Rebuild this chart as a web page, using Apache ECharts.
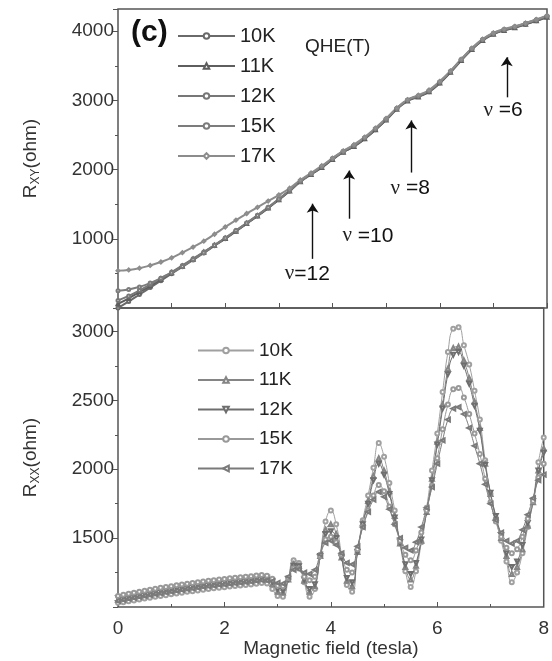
<!DOCTYPE html>
<html><head><meta charset="utf-8">
<script src="https://cdn.jsdelivr.net/npm/echarts@6/dist/echarts.min.js"></script>
<style>html,body{margin:0;padding:0;background:#fff}#c{width:552px;height:661px}</style>
</head><body><div id="c"></div>
<script>
// ---------- data ----------
const temps = ['10K', '11K', '12K', '15K', '17K'];

// Top panel: Hall resistance R_XY (ohm) vs field (tesla), 0.2 T steps
const fieldTop = [0,0.2,0.4,0.6,0.8,1.0,1.2,1.4,1.6,1.8,2.0,2.2,2.4,2.6,2.8,3.0,3.2,3.4,3.6,3.8,
  4.0,4.2,4.4,4.6,4.8,5.0,5.2,5.4,5.6,5.8,6.0,6.2,6.4,6.6,6.8,7.0,7.2,7.4,7.6,7.8,8.0];
const rxy10K = [0,95,195,295,395,495,595,695,795,900,1000,1110,1220,1330,1445,1565,1690,1830,1935,2030,
  2150,2255,2335,2445,2575,2720,2880,3000,3055,3125,3250,3410,3580,3740,3870,3960,4015,4055,4100,4150,4205];
const rxy11K = [60,140,230,320,415,510,605,705,805,905,1005,1110,1220,1330,1445,1565,1690,1825,1930,2030,
  2145,2250,2335,2445,2575,2715,2870,2990,3050,3125,3250,3405,3575,3735,3865,3955,4010,4050,4100,4150,4200];
const rxy12K = [110,175,255,340,430,520,615,712,810,910,1012,1118,1228,1338,1452,1570,1695,1828,1935,2040,
  2155,2260,2345,2455,2585,2725,2880,3000,3060,3135,3260,3415,3585,3745,3875,3965,4020,4060,4110,4160,4215];
const rxy15K = [250,268,305,360,430,510,600,700,800,905,1010,1118,1228,1340,1455,1575,1700,1835,1940,2045,
  2160,2265,2350,2460,2590,2730,2885,3005,3065,3140,3265,3420,3590,3750,3880,3970,4025,4065,4115,4165,4220];
const rxy17K = [540,550,575,615,665,725,800,880,965,1065,1170,1270,1365,1455,1545,1635,1730,1850,1950,2055,
  2165,2270,2360,2470,2600,2740,2890,3010,3075,3150,3275,3425,3595,3755,3885,3975,4030,4070,4115,4170,4225];

// Bottom panel: longitudinal resistance R_XX (ohm) vs field (tesla), 0.1 T steps
const fieldBottom = [0,0.1,0.2,0.3,0.4,0.5,0.6,0.7,0.8,0.9,1.0,1.1,1.2,1.3,1.4,1.5,1.6,1.7,1.8,1.9,
  2.0,2.1,2.2,2.3,2.4,2.5,2.6,2.7,2.8,2.9,3.0,3.1,3.2,3.3,3.4,3.5,3.6,3.7,3.8,3.9,
  4.0,4.1,4.2,4.3,4.4,4.5,4.6,4.7,4.8,4.9,5.0,5.1,5.2,5.3,5.4,5.5,5.6,5.7,5.8,5.9,
  6.0,6.1,6.2,6.3,6.4,6.5,6.6,6.7,6.8,6.9,7.0,7.1,7.2,7.3,7.4,7.5,7.6,7.7,7.8,7.9,8.0];
const rxx10K = [1030,1035,1042,1048,1055,1062,1068,1074,1080,1086,
  1092,1098,1104,1110,1115,1120,1126,1131,1136,1140,
  1144,1148,1152,1156,1160,1164,1168,1175,1170,1130,
  1080,1075,1200,1340,1320,1180,1075,1130,1380,1620,
  1700,1600,1380,1160,1110,1400,1630,1810,2010,2190,
  2090,1900,1700,1460,1260,1145,1260,1470,1720,1990,
  2260,2560,2850,3020,3030,2900,2760,2570,2360,2065,
  1820,1640,1480,1330,1180,1250,1390,1580,1770,2050,
  2230];
const rxx11K = [1050,1058,1065,1072,1079,1086,1093,1100,1106,1112,
  1118,1124,1130,1136,1142,1147,1152,1157,1162,1167,
  1171,1175,1179,1183,1187,1191,1196,1202,1198,1165,
  1110,1105,1200,1310,1300,1190,1110,1150,1370,1560,
  1600,1530,1360,1190,1150,1400,1610,1770,1950,2080,
  1990,1840,1660,1460,1290,1200,1300,1480,1690,1930,
  2200,2470,2730,2880,2890,2790,2660,2490,2300,2040,
  1820,1650,1500,1370,1240,1290,1420,1590,1760,1990,
  2150];
const rxx12K = [1065,1073,1081,1088,1095,1102,1109,1116,1122,1128,
  1134,1140,1146,1152,1158,1163,1168,1173,1178,1183,
  1187,1191,1195,1199,1203,1207,1212,1218,1212,1185,
  1130,1120,1205,1300,1295,1200,1130,1165,1370,1530,
  1550,1500,1360,1210,1180,1400,1600,1750,1920,2040,
  1960,1820,1650,1470,1310,1240,1320,1490,1690,1920,
  2180,2440,2690,2830,2850,2750,2620,2460,2280,2030,
  1830,1660,1520,1390,1290,1330,1450,1610,1770,1990,
  2120];
const rxx15K = [1080,1088,1096,1104,1111,1118,1125,1132,1139,1145,
  1151,1157,1163,1169,1175,1180,1185,1190,1195,1200,
  1204,1208,1212,1216,1220,1224,1228,1232,1226,1205,
  1155,1150,1210,1280,1280,1220,1195,1220,1370,1490,
  1510,1470,1380,1270,1250,1420,1580,1700,1810,1885,
  1840,1730,1600,1480,1380,1340,1410,1540,1700,1880,
  2080,2290,2470,2580,2590,2520,2400,2260,2110,1930,
  1760,1620,1510,1430,1390,1420,1510,1640,1770,1940,
  2040];
const rxx17K = [1045,1052,1060,1067,1074,1081,1088,1095,1101,1107,
  1113,1119,1125,1131,1137,1142,1147,1152,1157,1162,
  1166,1170,1174,1178,1182,1186,1191,1196,1194,1188,
  1175,1170,1220,1270,1275,1250,1240,1270,1380,1465,
  1480,1450,1390,1320,1310,1440,1580,1690,1780,1835,
  1800,1710,1600,1500,1430,1410,1470,1580,1720,1870,
  2040,2210,2360,2440,2450,2400,2300,2170,2040,1890,
  1750,1630,1540,1480,1460,1480,1560,1670,1790,1920,
  1960];

// Filling-factor annotations (top panel)
const nuLabels = ['12', '10', '8', '6'];
const nuSpaced = [false, true, true, true];
const nuArrowField = [3.63, 4.31, 5.47, 7.25];
const nuArrowFrom = [710, 1290, 1957, 3044];
const nuArrowTo = [1507, 1986, 2710, 3623];
const nuLabelField = [3.53, 4.66, 5.45, 7.18];
const nuLabelValue = [493, 1044, 1725, 2855];

// ---------- chart ----------
const FONT = 'Liberation Sans, Arial, sans-serif';
const topSets = [rxy10K, rxy11K, rxy12K, rxy15K, rxy17K];
const botSets = [rxx10K, rxx11K, rxx12K, rxx15K, rxx17K];
const topSymbols = ['emptyCircle', 'emptyTriangle', 'emptyCircle', 'emptyCircle', 'emptyDiamond'];
const botSymbols = ['emptyCircle', 'emptyTriangle', 'emptyTriangle', 'emptyCircle', 'emptyTriangle'];
const botRotate = [0, 0, 180, 0, 90];
const topColors = ['#6a6a6a', '#5e5e5e', '#777777', '#7c7c7c', '#8c8c8c'];
const botColors = ['#a0a0a0', '#858585', '#6e6e6e', '#999999', '#7a7a7a'];

const series = [];
temps.forEach((t, k) => {
  series.push({
    name: 't' + t, type: 'line', xAxisIndex: 0, yAxisIndex: 0,
    data: fieldTop.map((b, i) => [b, topSets[k][i]]),
    smooth: true, symbol: topSymbols[k], symbolSize: 3, showSymbol: true,
    lineStyle: { color: topColors[k], width: 2 },
    itemStyle: { color: topColors[k] },
    z: 2
  });
});
temps.forEach((t, k) => {
  series.push({
    name: 'b' + t, type: 'line', xAxisIndex: 1, yAxisIndex: 1,
    data: fieldBottom.map((b, i) => [b, botSets[k][i]]),
    smooth: true, symbol: botSymbols[k], symbolRotate: botRotate[k], symbolSize: 4, showSymbol: true,
    lineStyle: { color: botColors[k], width: 1 },
    itemStyle: { color: botColors[k] },
    z: 2
  });
});

// annotations attached to the first top series
series[0].markLine = {
  silent: true, animation: false,
  symbol: ['none', 'arrow'], symbolSize: 9,
  lineStyle: { color: '#111', width: 1.4, type: 'solid' },
  label: { show: false },
  emphasis: { disabled: true },
  data: nuArrowField.map((b, i) => [
    { coord: [b, nuArrowFrom[i]], symbol: 'none' },
    { coord: [b, nuArrowTo[i]], symbol: 'arrow', symbolSize: 9 }
  ])
};
series[0].markPoint = {
  silent: true, animation: false,
  symbol: 'circle', symbolSize: 0,
  label: {
    show: true, position: 'inside', color: '#111',
    formatter: p => '{g|\u03bd}{n|' + (nuSpaced[p.dataIndex] ? ' =' : '=') + nuLabels[p.dataIndex] + '}',
    rich: {
      g: { fontFamily: 'Liberation Serif, serif', fontSize: 21, color: '#222' },
      n: { fontFamily: FONT, fontSize: 21, color: '#111' }
    }
  },
  data: nuLabelField.map((b, i) => ({ coord: [b, nuLabelValue[i]] }))
};

const yName = sub => '{r|R}{s|' + sub + '}{r|(ohm)}';
const yNameStyle = {
  color: '#333', fontFamily: FONT,
  rich: {
    r: { fontSize: 19, fontFamily: FONT, color: '#333', lineHeight: 22 },
    s: { fontSize: 12, fontFamily: FONT, color: '#333', verticalAlign: 'bottom', lineHeight: 12 }
  }
};
const plainNum = v => String(v);

const option = {
  animation: false,
  backgroundColor: '#fff',
  textStyle: { fontFamily: FONT },
  title: [
    { text: '(c)', left: 126, top: 13, textStyle: { fontSize: 30, fontWeight: 'bold', color: '#111', fontFamily: FONT } },
    { text: 'QHE(T)', left: 300, top: 32, textStyle: { fontSize: 19, fontWeight: 'normal', color: '#222', fontFamily: FONT } }
  ],
  legend: [
    {
      orient: 'vertical', left: 172, top: 21,
      itemWidth: 57, itemHeight: 7, itemGap: 10,
      data: temps.map(t => 't' + t),
      formatter: n => n.slice(1),
      textStyle: { fontSize: 20, color: '#222', lineHeight: 20, fontFamily: FONT }
    },
    {
      orient: 'vertical', left: 192, top: 336,
      itemWidth: 56, itemHeight: 7, itemGap: 10.5,
      data: temps.map(t => 'b' + t),
      formatter: n => n.slice(1),
      textStyle: { fontSize: 19, color: '#222', lineHeight: 18, fontFamily: FONT }
    }
  ],
  grid: [
    { left: 118, right: 5, top: 9, height: 299, show: true, borderColor: '#555', borderWidth: 1.5, backgroundColor: 'transparent' },
    { left: 118, right: 5, top: 308, height: 299, show: true, borderColor: '#555', borderWidth: 1.5, backgroundColor: 'transparent' }
  ],
  xAxis: [
    {
      gridIndex: 0, type: 'value', min: 0, max: 8, interval: 1,
      axisLine: { show: false }, splitLine: { show: false },
      axisTick: { show: true, inside: true, length: 5, lineStyle: { color: '#555' } },
      axisLabel: { show: false }
    },
    {
      gridIndex: 1, type: 'value', min: 0, max: 8, interval: 2,
      axisLine: { show: false }, splitLine: { show: false },
      axisTick: { show: true, inside: true, length: 5, lineStyle: { color: '#555' } },
      minorTick: { show: true, splitNumber: 2, length: 3, lineStyle: { color: '#555' } },
      axisLabel: { fontSize: 19, color: '#333', margin: 12, fontFamily: FONT, formatter: plainNum },
      name: 'Magnetic field (tesla)', nameLocation: 'middle', nameGap: 32,
      nameTextStyle: { fontSize: 19, color: '#333', fontFamily: FONT }
    }
  ],
  yAxis: [
    {
      gridIndex: 0, type: 'value', min: 0, max: 4320, interval: 1000,
      axisLine: { show: false }, splitLine: { show: false },
      axisTick: { show: true, inside: false, length: 5, lineStyle: { color: '#555' } },
      minorTick: { show: true, splitNumber: 2, length: 3, lineStyle: { color: '#555' } },
      axisLabel: { fontSize: 19, color: '#333', margin: 4, showMinLabel: false, showMaxLabel: false, fontFamily: FONT, formatter: plainNum },
      name: yName('XY'), nameLocation: 'middle', nameGap: 76, nameRotate: 90,
      nameTextStyle: yNameStyle
    },
    {
      gridIndex: 1, type: 'value', min: 1000, max: 3170, interval: 500,
      axisLine: { show: false }, splitLine: { show: false },
      axisTick: { show: true, inside: false, length: 5, lineStyle: { color: '#555' } },
      minorTick: { show: true, splitNumber: 2, length: 3, lineStyle: { color: '#555' } },
      axisLabel: { fontSize: 19, color: '#333', margin: 4, showMinLabel: false, showMaxLabel: false, fontFamily: FONT, formatter: plainNum },
      name: yName('XX'), nameLocation: 'middle', nameGap: 76, nameRotate: 90,
      nameTextStyle: yNameStyle
    }
  ],
  series: series
};

const chart = echarts.init(document.getElementById('c'), null, { renderer: 'canvas' });
chart.setOption(option);
</script>
</body></html>
